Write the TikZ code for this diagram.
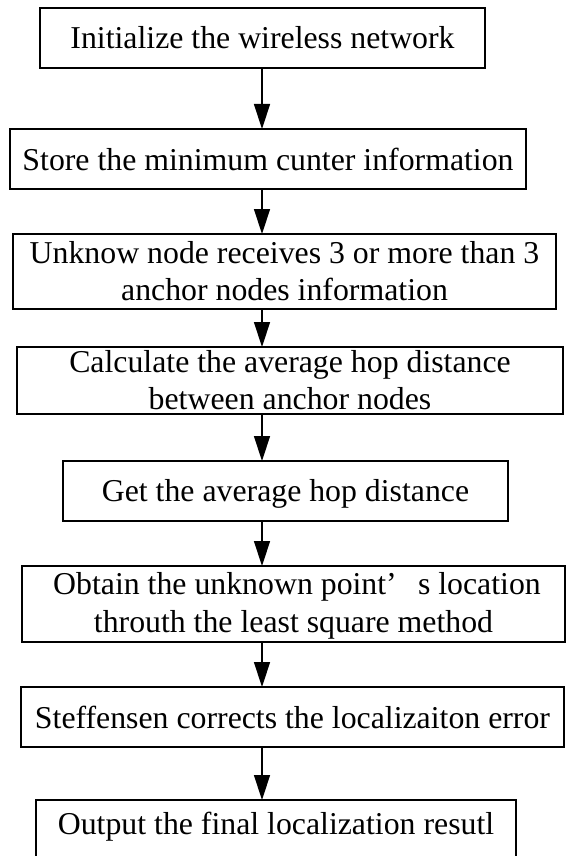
\documentclass[tikz,border=0pt]{standalone}
\usepackage{fontspec}
\setmainfont{Liberation Serif}
\usetikzlibrary{arrows.meta}
\tikzset{
  stepbox/.style={draw=black, line width=1.4pt, rectangle, inner sep=0pt, outer sep=0pt, fill=none},
  steptext/.style={anchor=base, inner sep=0pt, font=\fontsize{31.8}{38}\selectfont},
  arr/.style={line width=1.4pt, -{Triangle[length=25pt, width=16pt]}}
}
\begin{document}
\begin{tikzpicture}[x=1pt, y=-1pt]
\clip (0,0) rectangle (566,856);
\fill[white] (0,0) rectangle (566,856);
\coordinate (ax) at (262,0);
% boxes
\node[stepbox, minimum width=445pt, minimum height=60pt] (b1) at (262.5,38) {};
\node[stepbox, minimum width=516pt, minimum height=60pt] (b2) at (268,159) {};
\node[stepbox, minimum width=543pt, minimum height=75pt] (b3) at (284.5,271.5) {};
\node[stepbox, minimum width=546pt, minimum height=67pt] (b4) at (290,380.5) {};
\node[stepbox, minimum width=445pt, minimum height=60pt] (b5) at (285.5,491) {};
\node[stepbox, minimum width=543pt, minimum height=76pt] (b6) at (293.5,604) {};
\node[stepbox, minimum width=543pt, minimum height=60pt] (b7) at (292.5,717) {};
\node[stepbox, minimum width=480pt, minimum height=62pt] (b8) at (276,831) {};
% texts
\node[steptext] (t1) at (262.5,48.5) {Initialize the wireless network};
\node[steptext] (t2) at (268,170) {Store the minimum cunter information};
\node[steptext] (t3a) at (284.5,263) {Unknow node receives 3 or more than 3};
\node[steptext] (t3b) at (284.5,300) {anchor nodes information};
\node[steptext] (t4a) at (290,372) {Calculate the average hop distance};
\node[steptext] (t4b) at (290,409) {between anchor nodes};
\node[steptext] (t5) at (285.5,501) {Get the average hop distance};
\node[steptext] (t6a) at (297,594) {Obtain the unknown point’\hspace{0.667em}s location};
\node[steptext] (t6b) at (293.5,632) {throuth the least square method};
\node[steptext] (t7) at (292.5,728) {Steffensen corrects the localizaiton error};
\node[steptext] (t8) at (276,834) {Output the final localization resutl};
% arrows
\draw[arr] (b1.south -| ax) -- (b2.north -| ax);
\draw[arr] (b2.south -| ax) -- (b3.north -| ax);
\draw[arr] (b3.south -| ax) -- (b4.north -| ax);
\draw[arr] (b4.south -| ax) -- (b5.north -| ax);
\draw[arr] (b5.south -| ax) -- (b6.north -| ax);
\draw[arr] (b6.south -| ax) -- (b7.north -| ax);
\draw[arr] (b7.south -| ax) -- (b8.north -| ax);
\end{tikzpicture}
\end{document}
